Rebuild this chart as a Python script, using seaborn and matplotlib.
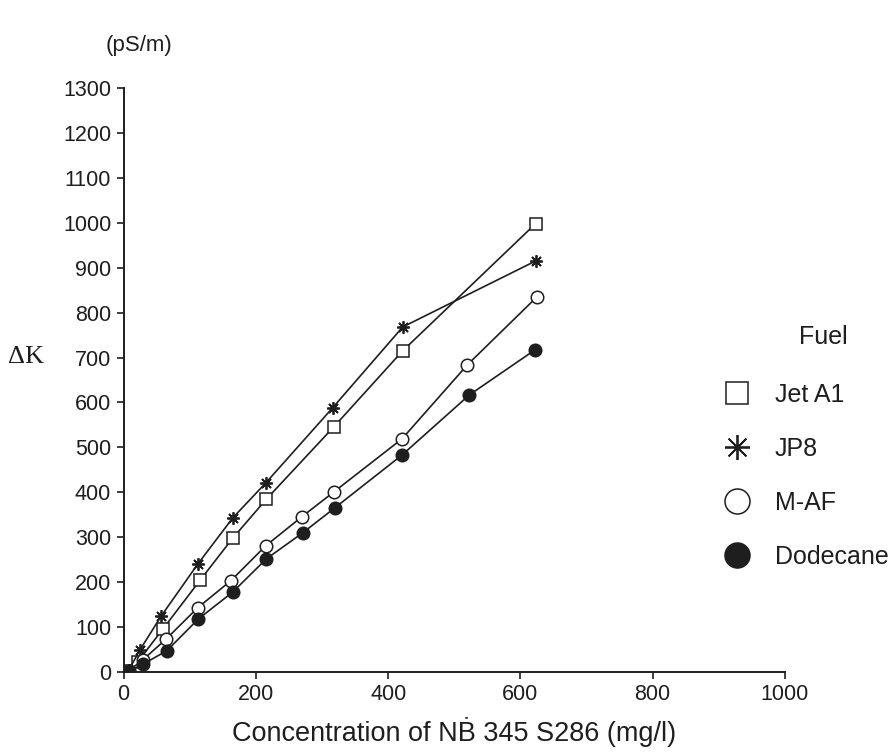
import matplotlib
matplotlib.use("Agg")
import matplotlib.pyplot as plt
import seaborn as sns
import pandas as pd
from matplotlib.lines import Line2D

# data (concentration mg/l, delta K pS/m)
jet_x = [8, 21, 59, 116, 165, 216, 318, 422, 623]
jet_y = [3, 22, 95, 205, 298, 385, 546, 715, 998]
jp8_x = [8, 25, 57, 112, 165, 215, 316, 422, 623]
jp8_y = [5, 50, 125, 240, 343, 421, 588, 768, 915]
maf_x = [8, 29, 64, 112, 162, 215, 269, 318, 421, 520, 625]
maf_y = [3, 27, 73, 143, 203, 281, 345, 401, 519, 684, 835]
dod_x = [8, 30, 65, 113, 165, 216, 271, 319, 421, 523, 622]
dod_y = [2, 18, 47, 118, 178, 252, 310, 365, 483, 617, 717]

fuels = ["Jet A1", "JP8", "M-AF", "Dodecane"]
x_ticks = [0, 200, 400, 600, 800, 1000]
y_ticks = list(range(0, 1301, 100))

sns.set_theme(style="ticks")
plt.rcParams["font.family"] = ["Liberation Sans", "DejaVu Sans"]

ink = "#1e1e1e"
fig = plt.figure(figsize=(8.96, 7.53), dpi=100)
ax = fig.add_axes([0.138, 0.1076, 0.738, 0.7755])

styles = {
    "Jet A1": dict(marker="s", mfc="white", ms=8),
    "JP8": dict(marker=(8, 2, 0), mfc=ink, ms=9, mew=1.3),
    "M-AF": dict(marker="o", mfc="white", ms=9),
    "Dodecane": dict(marker="o", mfc=ink, ms=9),
}
series = {"Jet A1": (jet_x, jet_y), "JP8": (jp8_x, jp8_y),
          "M-AF": (maf_x, maf_y), "Dodecane": (dod_x, dod_y)}

for name in fuels:
    xs, ys = series[name]
    df = pd.DataFrame({"conc": xs, "dk": ys})
    st = styles[name]
    sns.lineplot(data=df, x="conc", y="dk", ax=ax, color=ink, lw=1.2,
                 marker=st["marker"], markerfacecolor=st["mfc"],
                 markeredgecolor=ink, markersize=st["ms"],
                 markeredgewidth=st.get("mew", 1.1), sort=False)

ax.set_xlim(0, 1000)
ax.set_ylim(0, 1300)
ax.set_xticks(x_ticks)
ax.set_yticks(y_ticks)
ax.tick_params(direction="out", length=5, width=1.2, labelsize=15.5,
               colors=ink, pad=4)
for s in ["top", "right"]:
    ax.spines[s].set_visible(False)
for s in ["left", "bottom"]:
    ax.spines[s].set_linewidth(1.4)
    ax.spines[s].set_color(ink)
ax.set_xlabel("Concentration of N\u1E02 345 S286 (mg/l)", fontsize=19.5,
              color=ink, labelpad=8)
ax.set_ylabel("")

fig.text(106 / 896, 1 - 45 / 753, "(pS/m)", fontsize=16, color=ink,
         ha="left", va="center")
fig.text(8 / 896, 1 - 357 / 753, "\u0394K", fontsize=19, color=ink,
         ha="left", va="center", family=["Liberation Serif", "DejaVu Serif"])
fig.text(823 / 896, 1 - 337 / 753, "Fuel", fontsize=18, color=ink,
         ha="center", va="center")

handles = []
for name in fuels:
    st = styles[name]
    handles.append(Line2D([], [], ls="none", marker=st["marker"],
                          markerfacecolor=st["mfc"], markeredgecolor=ink,
                          markersize=st["ms"] * 2.0,
                          markeredgewidth=st.get("mew", 1.1)))
leg = fig.legend(handles, fuels, loc="center left",
                 bbox_to_anchor=(0.795, 1 - 476 / 753), frameon=False,
                 fontsize=18, labelspacing=1.2, handletextpad=0.5,
                 borderpad=0, borderaxespad=0)
for t in leg.get_texts():
    t.set_color(ink)

fig.savefig("out.png", dpi=100)
